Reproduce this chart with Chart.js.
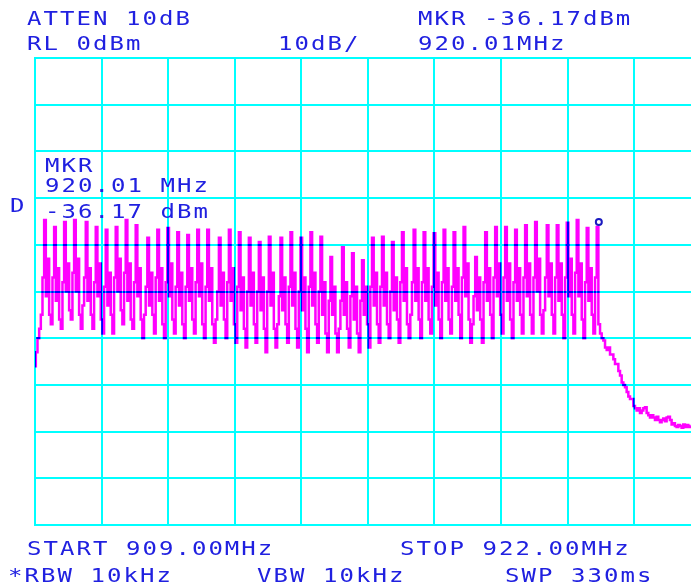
<!DOCTYPE html>
<html lang="en">
<head>
  <meta charset="UTF-8">
  <title>Spectrum 909 - 922 MHz</title>

  <!-- Chart.js -->
  <script src="https://cdn.jsdelivr.net/npm/chart.js"></script>

  <style>
    html, body { margin: 0; padding: 0; background: #fff; overflow: hidden; }
    #wrap { position: relative; width: 691px; height: 588px; }
    #spec { position: absolute; left: 0; top: 0; }
    /* annotation text of the analyzer screen */
    .t {
      position: absolute;
      font-family: 'DejaVu Sans Mono', monospace;
      font-size: 20px;
      line-height: 20px;
      letter-spacing: 1.7px;
      color: #2020e0;
      white-space: pre;
      transform: scaleX(1.2);
      transform-origin: 0 0;
    }
  </style>
</head>
<body>
  <div id="wrap">
    <canvas id="spec" width="691" height="588"></canvas>

    <!-- header -->
    <div class="t" style="left:27px; top:8px">ATTEN 10dB</div>
    <div class="t" style="left:27px; top:33px">RL 0dBm</div>
    <div class="t" style="left:278px; top:33px">10dB/</div>
    <div class="t" style="left:418px; top:8px">MKR -36.17dBm</div>
    <div class="t" style="left:418px; top:33px">920.01MHz</div>

    <!-- marker readout inside the grid -->
    <div class="t" style="left:45px; top:155px">MKR</div>
    <div class="t" style="left:45px; top:175px">920.01 MHz</div>
    <div class="t" style="left:45px; top:201px">-36.17 dBm</div>
    <div class="t" style="left:10px; top:195px">D</div>

    <!-- footer -->
    <div class="t" style="left:27px; top:538px">START 909.00MHz</div>
    <div class="t" style="left:400px; top:538px">STOP 922.00MHz</div>
    <div class="t" style="left:8px; top:565px">*RBW 10kHz</div>
    <div class="t" style="left:257px; top:565px">VBW 10kHz</div>
    <div class="t" style="left:505px; top:565px">SWP 330ms</div>
  </div>

  <script>
    /* --- sweep settings --- */
    const startMHz = 909.00;
    const stopMHz  = 922.00;
    const nPts     = 401;          // trace points over the full span
    const refLevel = 0;            // dBm, top line
    const bottomLevel = -100;      // dBm, 10 dB/div x 10

    /* visible right edge of the screen photo (grid is cut off there) */
    const viewMaxMHz = 921.81;

    /* vertical graticule lines (1.3 MHz/div) */
    const gridMHz = [909.0, 910.3, 911.6, 912.9, 914.2, 915.5, 916.8, 918.1, 919.4, 920.7];

    /* marker */
    const mkrMHz = 920.01;
    const mkrDbm = -36.17;

    /* trace, dBm per sweep point */
    const trace = [
      -66, -63, -60, -58, -55, -47, -34.7,
      -51, -43, -55, -57, -47, -36.2,
      -52, -45, -56, -58, -48, -35.1,
      -50, -44, -54, -56, -46, -34.7,
      -50, -43, -55, -58, -53, -47, -35.1,
      -52, -45, -55, -58, -48, -36.2,
      -51, -44, -56, -59, -49, -36.8,
      -53, -46, -55, -59, -47, -36.2,
      -50, -43, -54, -57, -46, -34.7,
      -52, -44, -56, -58, -48, -35.8,
      -51, -45, -56, -60, -55, -49, -38.5,
      -53, -46, -55, -59, -47, -36.8,
      -52, -45, -57, -60, -48, -36.4,
      -51, -44, -56, -59, -49, -37.3,
      -53, -46, -57, -60, -49, -37.9,
      -52, -45, -56, -59, -48, -36.8,
      -51, -44, -57, -60, -49, -36.8,
      -52, -45, -57, -61, -56, -50, -38.5,
      -53, -46, -56, -60, -48, -36.8,
      -52, -45, -57, -61, -49, -37.3,
      -54, -47, -58, -62, -50, -38.5,
      -53, -46, -57, -61, -50, -39.4,
      -54, -47, -58, -63, -50, -38.3,
      -53, -46, -58, -62, -57, -51, -38.5,
      -54, -47, -57, -61, -49, -37.3,
      -53, -46, -58, -62, -50, -38.5,
      -54, -47, -58, -63, -49, -37.3,
      -53, -46, -57, -61, -50, -38.3,
      -55, -48, -59, -63, -52, -42.6,
      -55, -49, -59, -63, -58, -52, -40.5,
      -55, -48, -58, -62, -51, -41.8,
      -56, -49, -59, -63, -52, -43.3,
      -55, -49, -57, -62, -49, -38.5,
      -53, -46, -57, -61, -49, -38.3,
      -53, -46, -57, -60, -50, -39.4,
      -54, -47, -56, -61, -48, -37.3,
      -52, -45, -57, -60, -55, -48, -36.8,
      -52, -45, -56, -60, -48, -37.3,
      -52, -45, -56, -59, -49, -37.5,
      -53, -46, -56, -60, -48, -36.8,
      -52, -45, -56, -59, -49, -37.3,
      -52, -45, -55, -60, -47, -36.2,
      -51, -44, -56, -61, -57, -51, -42.6,
      -54, -47, -56, -61, -48, -37.3,
      -52, -45, -55, -60, -47, -36.2,
      -51, -44, -55, -59, -47, -36.2,
      -52, -44, -56, -60, -48, -36.8,
      -52, -45, -55, -59, -47, -35.8,
      -51, -44, -55, -59, -47, -35.1,
      -50, -43, -55, -59, -54, -47, -35.8,
      -51, -44, -55, -59, -47, -35.8,
      -52, -44, -55, -60, -47, -35.3,
      -51, -43, -55, -59, -46, -34.7,
      -51, -44, -56, -60, -48, -36.4,
      -52, -45, -55, -59, -47, -36.17,
      // roll-off above 920 MHz
      -57, -59, -60, -60.5, -62, -62.5, -62, -63.5, -63.5, -64.5,
      -65.5, -65.5, -67, -68, -69.5, -70, -70.5, -71.5, -72.5, -73,
      -73, -74.5, -75, -75.5, -75, -76, -75.5, -75, -74.8, -76,
      -76.5, -77, -76.5, -77, -77.5, -76.8, -77.5, -78, -77.5, -77.2,
      -77.8, -77, -76.8, -77.5, -78.5, -78.2, -78.8, -79, -78.6, -78.8,
      -79.2, -78.5, -79, -78.6, -79, -78.8
    ];

    const stepMHz = (stopMHz - startMHz) / (nPts - 1);
    const points  = trace.map((v, i) => ({ x: startMHz + i * stepMHz, y: v }));

    /* trace drawn with multiply so it turns blue where it crosses the cyan grid */
    const multiplyTrace = {
      id: 'multiplyTrace',
      beforeDatasetsDraw (chart) {
        chart.ctx.save();
        chart.ctx.globalCompositeOperation = 'multiply';
      },
      afterDatasetsDraw (chart) {
        chart.ctx.restore();
      }
    };

    /* small marker ring just above the marked peak */
    const markerRing = {
      id: 'markerRing',
      afterDraw (chart) {
        const { ctx, scales } = chart;
        const x = scales.x.getPixelForValue(mkrMHz);
        const y = scales.y.getPixelForValue(mkrDbm) - 5;
        ctx.save();
        ctx.strokeStyle = '#1a1ac0';
        ctx.lineWidth = 2;
        ctx.beginPath();
        ctx.arc(x, y, 3, 0, Math.PI * 2);
        ctx.stroke();
        ctx.restore();
      }
    };

    const cyan = '#00ffff';

    new Chart(document.getElementById('spec'), {
      type: 'line',
      data: {
        datasets: [{
          data: points,
          borderColor: '#ff00ff',
          borderWidth: 2.5,
          pointRadius: 0,
          stepped: 'middle',
          fill: false
        }]
      },
      options: {
        responsive: false,
        animation: false,
        events: [],
        layout: { padding: { left: 35, top: 58, right: 0, bottom: 63 } },
        plugins: { legend: { display: false }, tooltip: { enabled: false } },
        scales: {
          x: {
            type: 'linear',
            min: startMHz,
            max: viewMaxMHz,
            afterBuildTicks: scale => { scale.ticks = gridMHz.map(v => ({ value: v })); },
            ticks: { display: false },
            grid: { color: cyan, lineWidth: 2, drawTicks: false },
            border: { color: cyan, width: 2 }
          },
          y: {
            min: bottomLevel,
            max: refLevel,
            ticks: { display: false, stepSize: 10 },
            grid: { color: cyan, lineWidth: 2, drawTicks: false },
            border: { color: cyan, width: 2 }
          }
        }
      },
      plugins: [multiplyTrace, markerRing]
    });
  </script>
</body>
</html>
